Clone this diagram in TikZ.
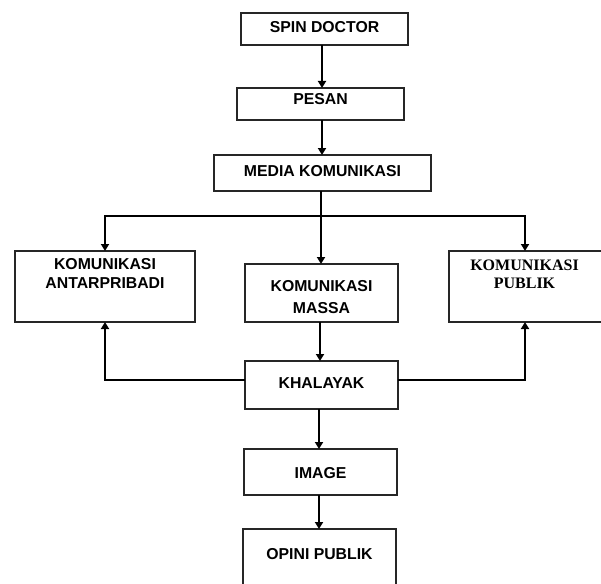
\documentclass[tikz,border=0pt]{standalone}
\usepackage{fontspec}
\setmainfont{Liberation Sans}
\newfontfamily\serifbold{Liberation Serif}
\usetikzlibrary{arrows.meta}
\tikzset{
  box/.style={draw=black!85, line width=1.1pt, inner sep=0pt},
  txt/.style={inner sep=0pt, anchor=north, align=center, font=\fontsize{15.8}{19}\selectfont\bfseries},
  arr/.style={line width=2pt, -{Triangle[length=7pt,width=8pt]}},
  lin/.style={line width=2pt},
}
\newcommand{\boxat}[5]{% name, left, top, right, bottom
  \path[box] (#2,#3) rectangle (#4,#5);
  \node[inner sep=0pt, minimum width={(#4-#2)*1pt}, minimum height={(#5-#3)*1pt}] (#1) at ({(#2+#4)/2},{(#3+#5)/2}) {};
}
\begin{document}
\begin{tikzpicture}[x=1pt,y=-1pt]
\useasboundingbox (0,0) rectangle (601,583);
\clip (0,0) rectangle (601,583);
\fill[white] (0,0) rectangle (601,583);
% boxes
\boxat{spin}{241}{13}{408}{45}
\boxat{pesan}{237}{88}{404}{120}
\boxat{media}{214}{155}{431}{191}
\boxat{antar}{15}{251}{195}{322}
\boxat{massa}{245}{264}{398}{322}
\boxat{publik}{449}{251}{604}{322}
\boxat{khal}{245}{361}{398}{409}
\boxat{image}{244}{449}{397}{495}
\boxat{opini}{243}{529}{396}{600}
% texts
\node[txt] (tspin) at (324.5,21.5) {SPIN DOCTOR};
\node[txt] (tpesan) at (320.5,93.5) {PESAN};
\node[txt] (tmedia) at (322.5,165) {MEDIA KOMUNIKASI};
\node[txt] (tantar) at (105,258) {KOMUNIKASI\\ANTARPRIBADI};
\node[txt, font=\fontsize{15.8}{21.5}\selectfont\bfseries] (tmassa) at (321.5,280.5) {KOMUNIKASI\\MASSA};
\node[txt, font=\fontsize{16}{17.5}\selectfont\serifbold\bfseries] (tpublik) at (524.5,260) {KOMUNIKASI\\PUBLIK};
\node[txt] (tkhal) at (321.5,377) {KHALAYAK};
\node[txt] (timage) at (320.5,467) {IMAGE};
\node[txt] (topini) at (319.5,548) {OPINI PUBLIK};
% connectors
\coordinate (j) at (321,216);
\draw[arr] (322,45) -- (322,88);
\draw[arr] (322,120) -- (322,155);
\draw[arr] (321,191) -- (321,264);
\draw[arr] (j) -| (105,251);
\draw[arr] (j) -| (525,251);
\draw[arr] (320,322) -- (320,361);
\draw[arr] (khal.west |- 0,380) -| (105,322);
\draw[arr] (khal.east |- 0,380) -| (525,322);
\draw[arr] (319,409) -- (319,449);
\draw[arr] (319,495) -- (319,529);
\end{tikzpicture}
\end{document}
